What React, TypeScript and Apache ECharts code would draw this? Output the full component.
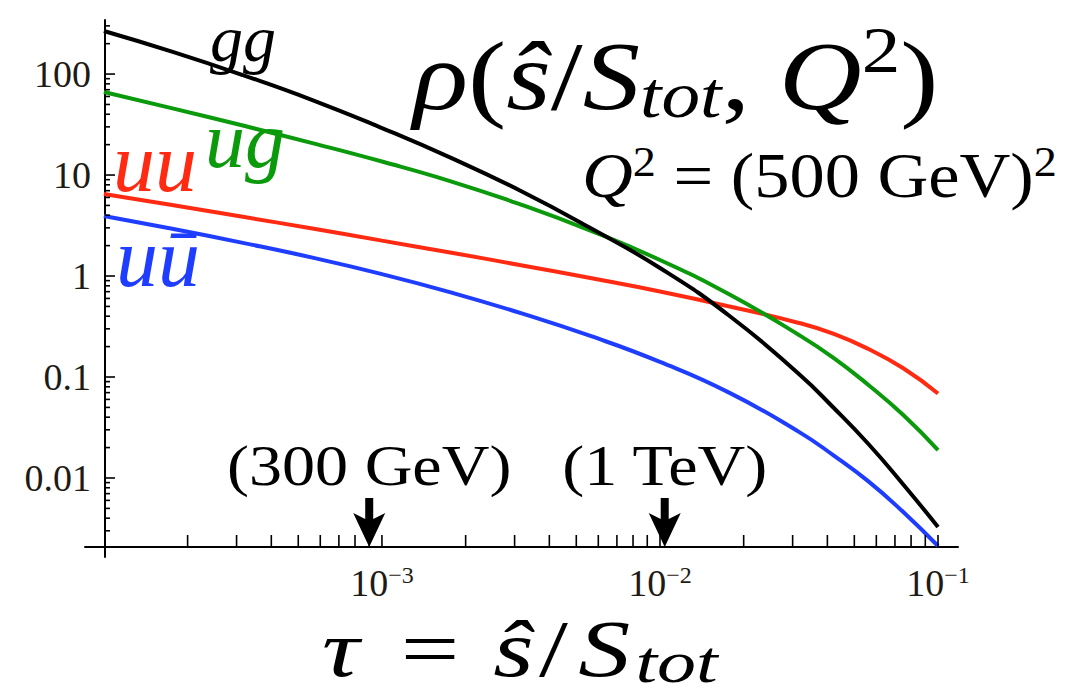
import React, { useEffect, useRef } from "react";
import * as echarts from "echarts";

const SERIF = "Liberation Serif";
const font = (size: number, italic = false) => `${italic ? "italic " : ""}${size}px ${SERIF}`;

// Sample points in tau = ŝ/S_tot shared by the four luminosity curves
const TAU = [1e-4, 1.78e-4, 3.16e-4, 5.62e-4, 1e-3, 1.78e-3, 3.16e-3, 5.62e-3, 0.01, 0.0178, 0.0316, 0.0422, 0.0562, 0.075, 0.1];
const RHO_GG = [267, 165, 97.7, 55.3, 29.2, 14.7, 6.95, 2.99, 1.2, 0.402, 0.107, 0.0493, 0.0217, 0.00863, 0.00327];
const RHO_UG = [66.4, 45.5, 30.9, 20.7, 13.6, 8.62, 5.1, 2.82, 1.44, 0.656, 0.261, 0.154, 0.0833, 0.042, 0.0189];
const RHO_UU = [6.49, 5.01, 3.86, 2.95, 2.24, 1.7, 1.28, 0.955, 0.703, 0.499, 0.343, 0.267, 0.189, 0.122, 0.0687];
const RHO_UUBAR = [3.93, 2.92, 2.13, 1.52, 1.044, 0.685, 0.429, 0.255, 0.141, 0.0696, 0.0286, 0.01667, 0.00925, 0.0046, 0.00212];

// Plot range (log axes)
const X_MIN = 8.55e-5;
const X_MAX = 0.118;
const Y_MIN = 0.00165;
const Y_MAX = 343;
// value where the horizontal axis crosses the vertical one
const Y_ORIGIN = 0.00207;

// Tick labels
const X_LABEL_EXPONENTS = [-3, -2, -1];
const Y_LABEL_VALUES = [0.01, 0.1, 1, 10, 100];
const Y_LABEL_TEXTS = ["0.01", "0.1", "1", "10", "100"];

// Tick mantissas and decades
const MANTISSAS = [1, 2, 3, 4, 5, 6, 7, 8, 9];
const X_DECADES = [1e-4, 1e-3, 1e-2, 1e-1];
const Y_DECADES = [1e-3, 1e-2, 1e-1, 1, 10, 100];

// Energy markers on the tau axis
const ARROW_TAU = [9e-4, 0.0104];
const ARROW_TEXT = ["(300 GeV)", "(1 TeV)"];

// axis lines are shifted from the grid edges (crossing axes)
const X_SHIFT = 10;
const Y_SHIFT = 20;

const COLORS = {
  gg: "#000000",
  ug: "#0b9a0b",
  uu: "#ff2a12",
  uubar: "#1f3dff",
};

function buildXTicks(): number[] {
  const out: number[] = [];
  X_DECADES.forEach((d) => {
    MANTISSAS.forEach((m) => {
      const v = m * d;
      if (v > 1.01e-4 && v <= 0.1001) out.push(v);
    });
  });
  return out;
}

function buildYTicks(): number[][] {
  const out: number[][] = [];
  Y_DECADES.forEach((d) => {
    MANTISSAS.forEach((m) => {
      const v = m * d;
      if (v > Y_ORIGIN && v < Y_MAX) out.push([X_MIN, v, m === 1 ? 1 : 0]);
    });
  });
  return out;
}

function pairs(ys: number[]): number[][] {
  return TAU.map((t, i) => [t, ys[i]]);
}

function lineSeries(name: string, ys: number[], color: string) {
  return {
    name,
    type: "line",
    data: pairs(ys),
    showSymbol: false,
    smooth: 0.5,
    lineStyle: { color, width: 4 },
    silent: true,
    z: 3,
  };
}

export default function App() {
  const ref = useRef<HTMLDivElement>(null);

  useEffect(() => {
    if (!ref.current) return;
    const chart = echarts.init(ref.current, undefined, { renderer: "svg" });

    const xTickSeries = {
      type: "custom",
      silent: true,
      z: 5,
      clip: false,
      data: buildXTicks().map((t) => [t, Y_MIN]),
      renderItem: (params: any, api: any) => {
        const p = api.coord([api.value(0), api.value(1)]);
        const y0 = p[1] - X_SHIFT;
        return {
          type: "line",
          shape: { x1: p[0], y1: y0, x2: p[0], y2: y0 - 12 },
          style: { stroke: "#000", lineWidth: 1.6 },
        };
      },
    };

    const yTickSeries = {
      type: "custom",
      silent: true,
      z: 5,
      clip: false,
      data: buildYTicks(),
      renderItem: (params: any, api: any) => {
        const p = api.coord([api.value(0), api.value(1)]);
        const x0 = p[0] + Y_SHIFT;
        const len = api.value(2) ? 10 : 5;
        return {
          type: "line",
          shape: { x1: x0, y1: p[1], x2: x0 + len, y2: p[1] },
          style: { stroke: "#000", lineWidth: 1.6 },
        };
      },
    };

    const arrowSeries = {
      type: "custom",
      silent: true,
      z: 6,
      clip: false,
      data: ARROW_TAU.map((t) => [t, Y_MIN]),
      renderItem: (params: any, api: any) => {
        const p = api.coord([api.value(0), api.value(1)]);
        const tx = p[0];
        const ty = p[1] - X_SHIFT;
        return {
          type: "group",
          children: [
            {
              type: "polygon",
              shape: {
                points: [
                  [tx - 4, ty - 49],
                  [tx + 4, ty - 49],
                  [tx + 4, ty - 28],
                  [tx + 16, ty - 34],
                  [tx, ty],
                  [tx - 16, ty - 34],
                  [tx - 4, ty - 28],
                ],
              },
              style: { fill: "#000" },
            },
            {
              type: "text",
              x: tx,
              y: ty - 81,
              scaleX: 1.18,
              style: {
                text: ARROW_TEXT[params.dataIndex],
                font: font(56),
                lineHeight: 56,
                fill: "#000",
                align: "center",
                verticalAlign: "middle",
              },
            },
          ],
        };
      },
    };

    const curveLabel = (x: number, y: number, text: string, size: number, color: string) => ({
      type: "text",
      x,
      y,
      silent: true,
      style: {
        text,
        font: font(size, true),
        lineHeight: Math.round(size * 0.8),
        fill: color,
        align: "left",
        verticalAlign: "middle",
      },
    });

    const option: any = {
      animation: false,
      backgroundColor: "#ffffff",
      grid: {
        left: 85,
        right: 127,
        top: 20,
        bottom: 138,
        containLabel: false,
        outerBoundsMode: "none",
      },
      xAxis: {
        type: "log",
        logBase: 10,
        min: X_MIN,
        max: X_MAX,
        offset: -X_SHIFT,
        axisLine: { show: true, onZero: false, lineStyle: { color: "#000", width: 2 } },
        axisTick: { show: false },
        splitLine: { show: false },
        axisLabel: {
          margin: 16,
          interval: 0,
          formatter: (v: number) => {
            const e = Math.round(Math.log10(v));
            if (Math.abs(Math.log10(v) - e) > 1e-6) return "";
            if (X_LABEL_EXPONENTS.indexOf(e) < 0) return "";
            return `{b|10}{e|\u2212${Math.abs(e)}}`;
          },
          rich: {
            b: { fontFamily: SERIF, fontSize: 38, color: "#1e1a14", lineHeight: 40 },
            e: { fontFamily: SERIF, fontSize: 24, color: "#1e1a14", lineHeight: 22, verticalAlign: "top" },
          },
        },
      },
      yAxis: {
        type: "log",
        logBase: 10,
        min: Y_MIN,
        max: Y_MAX,
        offset: -Y_SHIFT,
        axisLine: { show: true, onZero: false, lineStyle: { color: "#000", width: 2 } },
        axisTick: { show: false },
        splitLine: { show: false },
        axisLabel: {
          margin: 14,
          interval: 0,
          fontFamily: SERIF,
          fontSize: 38,
          color: "#1e1a14",
          formatter: (v: number) => {
            const lv = Math.log10(v);
            for (let i = 0; i < Y_LABEL_VALUES.length; i++) {
              if (Math.abs(Math.log10(Y_LABEL_VALUES[i]) - lv) < 1e-6) return Y_LABEL_TEXTS[i];
            }
            return "";
          },
        },
      },
      series: [
        lineSeries("uū", RHO_UUBAR, COLORS.uubar),
        lineSeries("uu", RHO_UU, COLORS.uu),
        lineSeries("ug", RHO_UG, COLORS.ug),
        lineSeries("gg", RHO_GG, COLORS.gg),
        xTickSeries,
        yTickSeries,
        arrowSeries,
      ],
      graphic: [
        curveLabel(210, 38, "gg", 66, COLORS.gg),
        curveLabel(205, 140, "ug", 80, COLORS.ug),
        curveLabel(113, 162, "uu", 84, COLORS.uu),
        curveLabel(116, 257, "u\u016B", 84, COLORS.uubar),
        {
          type: "text",
          x: 413,
          y: 21,
          scaleX: 1.17,
          silent: true,
          style: {
            text: "{i|\u03C1}{r|(}{i|\u015D}{r|/}{i|S}{sub|tot}{r|, }{i|Q}{sup|2}{r|)}",
            align: "left",
            verticalAlign: "top",
            font: font(98),
            fill: "#000",
            rich: {
              i: { font: font(98, true), lineHeight: 110, fill: "#000" },
              r: { font: font(98), lineHeight: 110, fill: "#000" },
              sub: { font: font(66, true), lineHeight: 50, padding: [38, 0, 0, 0], fill: "#000" },
              sup: { font: font(66), lineHeight: 50, padding: [0, 0, 52, 0], fill: "#000" },
            },
          },
        },
        {
          type: "text",
          x: 582,
          y: 141,
          scaleX: 1.1,
          silent: true,
          style: {
            text: "{i|Q}{sup|2}{eq|=}{r|(500 GeV)}{sup|2}",
            align: "left",
            verticalAlign: "top",
            font: font(64),
            fill: "#000",
            rich: {
              i: { font: font(64, true), lineHeight: 70, fill: "#000" },
              r: { font: font(64), lineHeight: 70, fill: "#000" },
              eq: { font: font(64), lineHeight: 70, fill: "#000", padding: [0, 16, 0, 16] },
              sup: { font: font(42), lineHeight: 41, padding: [0, 0, 28, 0], fill: "#000" },
            },
          },
        },
        {
          type: "text",
          x: 322,
          y: 612,
          scaleX: 1.3,
          silent: true,
          style: {
            text: "{i|\u03C4}{eq|=}{i|\u015D}{sl|/}{S|S}{sub|tot}",
            align: "left",
            verticalAlign: "top",
            font: font(80),
            fill: "#000",
            rich: {
              i: { font: font(80, true), lineHeight: 74, fill: "#000" },
              S: { font: font(80, true), lineHeight: 74, fill: "#000", padding: [0, 4, 0, 0] },
              sl: { font: font(80), lineHeight: 74, fill: "#000", padding: [0, 8, 0, 4] },
              eq: { font: font(80), lineHeight: 74, fill: "#000", padding: [0, 26, 0, 32] },
              sub: { font: font(60, true), lineHeight: 40, padding: [26, 0, 0, 0], fill: "#000" },
            },
          },
        },
      ],
    };

    chart.setOption(option);
    return () => {
      chart.dispose();
    };
  }, []);

  return (
    <div
      ref={ref}
      style={{ position: "absolute", left: 0, top: 0, width: 1085, height: 695, background: "#fff" }}
    />
  );
}
